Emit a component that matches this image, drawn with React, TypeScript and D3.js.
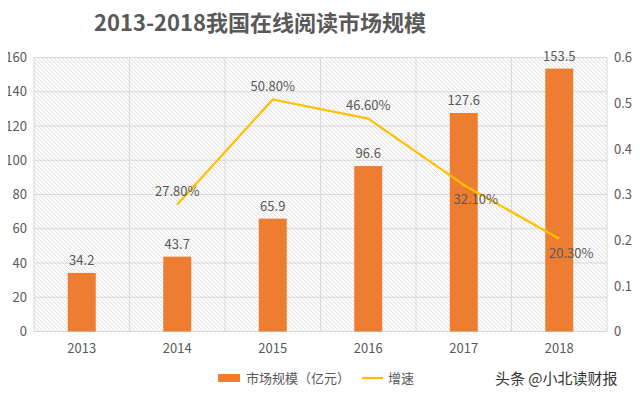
import * as d3 from 'd3';
import React, { useEffect, useRef } from 'react';

const years = ['2013', '2014', '2015', '2016', '2017', '2018'];
const marketSize = [34.2, 43.7, 65.9, 96.6, 127.6, 153.5];
const growth: (number | null)[] = [null, 0.278, 0.508, 0.466, 0.321, 0.203];
const growthLabels = ['', '27.80%', '50.80%', '46.60%', '32.10%', '20.30%'];
const leftTicks = [0, 20, 40, 60, 80, 100, 120, 140, 160];
const rightTicks = [0, 0.1, 0.2, 0.3, 0.4, 0.5, 0.6];

function App() {
  const ref = useRef<SVGSVGElement>(null);

  useEffect(() => {
    const width = 640;
    const height = 396;
    const plot = { left: 34, right: 607, top: 57.5, bottom: 331.5 };
    const font = '"Noto Sans CJK SC", "Open Sans", sans-serif';
    const grey = '#595959';

    const svg = d3.select(ref.current);
    svg.selectAll('*').remove();
    svg.attr('width', width).attr('height', height);

    svg.append('rect').attr('width', width).attr('height', height).attr('fill', '#ffffff');

    // diagonal hatch background
    const defs = svg.append('defs');
    const pat = defs.append('pattern')
      .attr('id', 'hatch')
      .attr('patternUnits', 'userSpaceOnUse')
      .attr('width', 4)
      .attr('height', 4);
    pat.append('rect').attr('width', 4).attr('height', 4).attr('fill', '#fbfbfb');
    pat.append('path')
      .attr('d', 'M-1,-1 L5,5 M-1,3 L1,5 M3,-1 L5,1')
      .attr('stroke', '#dcdcdc')
      .attr('stroke-width', 0.8);

    const x = d3.scaleBand().domain(years).range([plot.left, plot.right]).paddingInner(0).paddingOuter(0);
    const yL = d3.scaleLinear().domain([0, 160]).range([plot.bottom, plot.top]);
    const yR = d3.scaleLinear().domain([0, 0.6]).range([plot.bottom, plot.top]);

    svg.append('rect')
      .attr('x', plot.left).attr('y', plot.top)
      .attr('width', plot.right - plot.left).attr('height', plot.bottom - plot.top)
      .attr('fill', 'url(#hatch)');

    // gridlines
    svg.append('g').selectAll('line').data(leftTicks).enter().append('line')
      .attr('x1', plot.left).attr('x2', plot.right)
      .attr('y1', d => yL(d)).attr('y2', d => yL(d))
      .attr('stroke', '#d9d9d9').attr('stroke-width', 1);

    const bounds = years.map(d => x(d) as number).concat([plot.right]);
    svg.append('g').selectAll('line').data(bounds).enter().append('line')
      .attr('x1', d => d).attr('x2', d => d)
      .attr('y1', plot.top).attr('y2', plot.bottom)
      .attr('stroke', '#d9d9d9').attr('stroke-width', 1);

    // axes labels
    const leftAxis = d3.axisLeft(yL).tickValues(leftTicks).tickSize(0).tickPadding(7);
    const gl = svg.append('g').attr('transform', `translate(${plot.left},0)`).call(leftAxis);
    gl.select('.domain').remove();
    gl.selectAll('text').attr('fill', grey).attr('font-size', 13).attr('font-family', font);

    const rightAxis = d3.axisRight(yR).tickValues(rightTicks).tickSize(0).tickPadding(7)
      .tickFormat(d => d3.format('')(Math.round((d as number) * 10) / 10));
    const gr = svg.append('g').attr('transform', `translate(${plot.right},0)`).call(rightAxis);
    gr.select('.domain').remove();
    gr.selectAll('text').attr('fill', grey).attr('font-size', 13).attr('font-family', font);

    const bottomAxis = d3.axisBottom(x).tickSize(0).tickPadding(12);
    const gb = svg.append('g').attr('transform', `translate(0,${plot.bottom})`).call(bottomAxis);
    gb.select('.domain').remove();
    gb.selectAll('text').attr('fill', grey).attr('font-size', 13).attr('font-family', font);

    // bars
    const barW = 28;
    const cx = (d: string) => (x(d) as number) + x.bandwidth() / 2;
    svg.append('g').selectAll('rect').data(marketSize).enter().append('rect')
      .attr('x', (d, i) => cx(years[i]) - barW / 2)
      .attr('y', d => yL(d))
      .attr('width', barW)
      .attr('height', d => plot.bottom - yL(d))
      .attr('fill', '#ED7D31');

    svg.append('g').selectAll('text').data(marketSize).enter().append('text')
      .attr('x', (d, i) => cx(years[i]))
      .attr('y', d => yL(d) - 8)
      .attr('text-anchor', 'middle')
      .attr('fill', grey).attr('font-size', 13).attr('font-family', font)
      .text(d => d.toFixed(1));

    // growth line
    const pts = growth.map((g, i) => ({ year: years[i], g, label: growthLabels[i] }))
      .filter(p => p.g !== null) as { year: string; g: number; label: string }[];
    const line = d3.line<{ year: string; g: number }>()
      .x(d => cx(d.year))
      .y(d => yR(d.g));
    svg.append('path').datum(pts)
      .attr('d', line)
      .attr('fill', 'none')
      .attr('stroke', '#FFC000')
      .attr('stroke-width', 2.25)
      .attr('stroke-linejoin', 'round');

    svg.append('g').selectAll('text').data(pts).enter().append('text')
      .attr('x', d => cx(d.year) + (d.g < 0.35 && d.year !== '2014' ? 12 : 0))
      .attr('y', d => (d.g < 0.35 && d.year !== '2014' ? yR(d.g) + 19 : yR(d.g) - 9))
      .attr('text-anchor', 'middle')
      .attr('fill', grey).attr('font-size', 13).attr('font-family', font)
      .text(d => d.label);

    // title
    svg.append('text')
      .attr('x', 260).attr('y', 31)
      .attr('text-anchor', 'middle')
      .attr('fill', '#595959')
      .attr('font-size', 22)
      .attr('font-weight', 'bold')
      .attr('font-family', font)
      .text('2013-2018我国在线阅读市场规模');

    // legend
    const lg = svg.append('g');
    lg.append('rect').attr('x', 218).attr('y', 374).attr('width', 22).attr('height', 8).attr('fill', '#ED7D31');
    lg.append('text').attr('x', 246).attr('y', 383)
      .attr('fill', grey).attr('font-size', 13).attr('font-family', font)
      .text('市场规模（亿元）');
    lg.append('line').attr('x1', 362).attr('x2', 383).attr('y1', 378).attr('y2', 378)
      .attr('stroke', '#FFC000').attr('stroke-width', 2.25);
    lg.append('text').attr('x', 388).attr('y', 383)
      .attr('fill', grey).attr('font-size', 13).attr('font-family', font)
      .text('增速');

    // watermark
    svg.append('text')
      .attr('x', 495).attr('y', 384)
      .attr('fill', '#333333').attr('font-size', 15).attr('font-family', font)
      .text('头条 @小北读财报');
  });

  return (
    <div style={{ margin: -8, width: 640, height: 396 }}>
      <svg ref={ref} style={{ display: 'block' }} />
    </div>
  );
}

export default App;
